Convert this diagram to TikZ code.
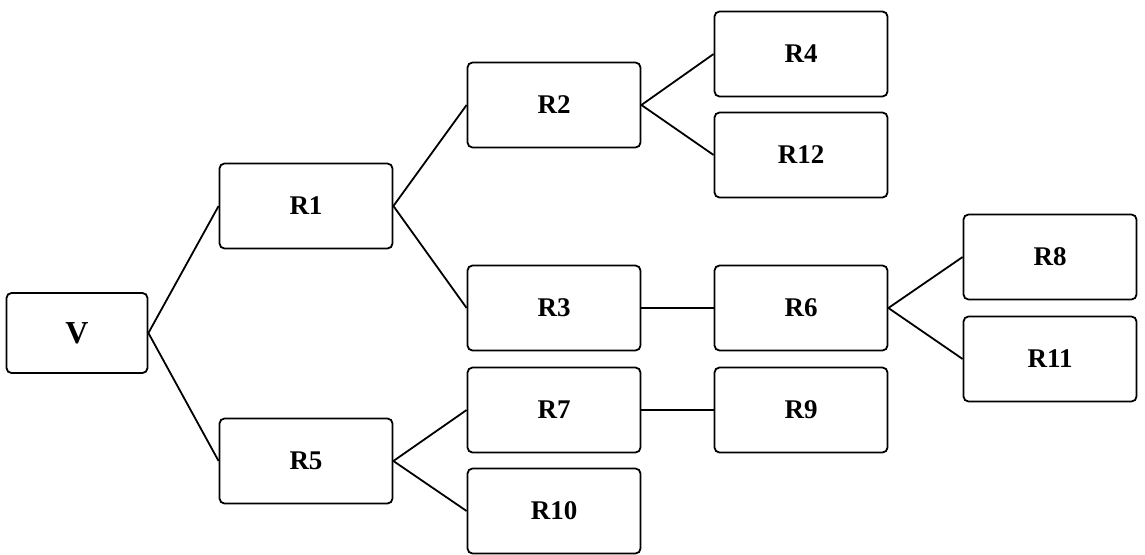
\documentclass[tikz,border=0pt]{standalone}
\usepackage{fontspec}
\setmainfont{Liberation Serif}
\usepackage{tikz}

\tikzset{
    rbox/.style={draw, line width=1.8pt, rounded corners=5pt, fill=white,
        minimum width=173pt, minimum height=85pt, inner sep=0pt,
        font=\fontsize{27}{27}\selectfont\bfseries},
    vbox/.style={rbox, minimum width=141pt, minimum height=80pt,
        font=\fontsize{32}{32}\selectfont\bfseries},
    link/.style={line width=1.8pt}
}

\begin{document}
\begin{tikzpicture}[x=1pt,y=-1pt]
            % Fixed Bounding Box for alignment
            \useasboundingbox (0,0) rectangle (1145,554);

            % Nodes
            \node[vbox] (v) at (77,333) {V};
            \node[rbox] (r1) at (306,206) {R1};
            \node[rbox] (r5) at (306,461) {R5};
            \node[rbox] (r2) at (554,105) {R2};
            \node[rbox] (r3) at (554,308) {R3};
            \node[rbox] (r7) at (554,410) {R7};
            \node[rbox] (r10) at (554,511) {R10};
            \node[rbox] (r4) at (801,54) {R4};
            \node[rbox] (r12) at (801,155) {R12};
            \node[rbox] (r6) at (801,308) {R6};
            \node[rbox] (r9) at (801,410) {R9};
            \node[rbox] (r8) at (1050,257) {R8};
            \node[rbox] (r11) at (1050,359) {R11};

            % Connectors
            \draw[link] (r1.west) -- (v.east) -- (r5.west);
            \draw[link] (r2.west) -- (r1.east) -- (r3.west);
            \draw[link] (r4.west) -- (r2.east) -- (r12.west);
            \draw[link] (r7.west) -- (r5.east) -- (r10.west);
            \draw[link] (r8.west) -- (r6.east) -- (r11.west);
            \draw[link] (r3.east) -- (r6.west);
            \draw[link] (r7.east) -- (r9.west);
        \end{tikzpicture}
\end{document}
